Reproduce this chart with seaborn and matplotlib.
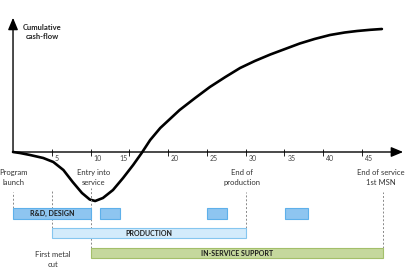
import matplotlib
matplotlib.use("Agg")
import matplotlib.pyplot as plt
import seaborn as sns
import pandas as pd

sns.set_theme(style="white")
plt.rcParams['font.family'] = ['Lato', 'DejaVu Sans']

# Cumulative cash-flow curve (years, arbitrary units)
years = [0, 0.9, 2.2, 3.9, 5.2, 6.5, 7.7, 8.9, 9.9, 10.6, 11.6, 12.9, 14.2, 15.5, 16.6,
         17.7, 19.0, 21.5, 23.5, 25.4, 27.4, 29.3, 31.2, 33.2, 35.1, 37.0, 38.9,
         40.9, 42.8, 44.4, 46.1, 47.6]
cashflow = [0, -0.1, -0.3, -0.6, -1.0, -1.8, -3.0, -4.1, -4.75, -4.9, -4.6, -3.8, -2.6, -1.3, -0.1,
            1.2, 2.4, 4.2, 5.4, 6.5, 7.5, 8.4, 9.1, 9.75, 10.3, 10.85, 11.3,
            11.7, 11.95, 12.1, 12.22, 12.3]

tick_years = [5, 10, 15, 20, 25, 30, 35, 40, 45]
tick_labels = ["5", "10", "15", "20", "25", "30", "35", "40", "45"]

# Phase bars
phase_names = ["R&D, DESIGN", "", "", "", "PRODUCTION", "IN-SERVICE SUPPORT"]
phase_start = [0, 11.2, 25.0, 35.1, 5, 10]
phase_end = [10, 13.8, 27.6, 38.1, 30, 47.7]
phase_row = [0, 0, 0, 0, 1, 2]
phase_fill = ["#8ec5f0", "#8ec5f0", "#8ec5f0", "#8ec5f0", "#d3ebfb", "#c5d89d"]
phase_edge = ["#5eb0ea", "#5eb0ea", "#5eb0ea", "#5eb0ea", "#85c6ef", "#a3bf6a"]

# Milestones
milestone_labels = ["Program\nlaunch", "Entry into\nservice", "End of\nproduction",
                    "End of service\n1st MSN", "First metal\ncut"]
milestone_years = [0, 10.3, 29.8, 47.6, 5]

fig = plt.figure(figsize=(4.07, 2.72), dpi=100)
ax = fig.add_axes([0, 0, 1, 1])
ax.set_xlim(-1.68, 50.84)
ax.set_ylim(-12.0, 15.2)
ax.axis("off")

df = pd.DataFrame({"year": years, "cf": cashflow})
sns.lineplot(data=df, x="year", y="cf", sort=False, color="black", lw=1.9, ax=ax,
             solid_joinstyle="round", solid_capstyle="round")

# axes arrows
ax.annotate("", xy=(50.7, 0), xytext=(0, 0),
            arrowprops=dict(arrowstyle="-|>,head_length=0.6,head_width=0.25", color="black", lw=1.0))
ax.annotate("", xy=(0, 13.7), xytext=(0, -0.3),
            arrowprops=dict(arrowstyle="-|>,head_length=0.6,head_width=0.25", color="black", lw=1.0))
ax.text(3.8, 12.0, "Cumulative\ncash-flow", fontsize=5.5, fontweight="bold",
        ha="center", va="center", linespacing=1.3, color="#222222")

# ticks
ax.vlines(tick_years, -0.4, 0.3, color="black", lw=0.6)
for t, lab in zip(tick_years, tick_labels):
    if lab == "15":
        ax.text(t - 0.2, -0.3, lab, fontsize=5, ha="right", va="top", color="#444444")
    else:
        ax.text(t + 0.4, -0.3, lab, fontsize=5, ha="left", va="top", color="#444444")

# phase bars
row_y = [-6.15, -8.1, -10.1]
for name, s, e, r, fc, ec in zip(phase_names, phase_start, phase_end, phase_row, phase_fill, phase_edge):
    ax.barh(row_y[r], e - s, left=s, height=1.05, color=fc, edgecolor=ec, lw=0.8, zorder=3)
    if name:
        ax.text((s + e) / 2, row_y[r], name, fontsize=5, fontweight="bold",
                ha="center", va="center", color="#1a1a1a", zorder=4)

# milestone dashed lines
dash = (0, (2, 2))
ax.vlines([0], -5.6, -4.0, colors="#888888", linestyles=[dash], lw=0.7)
ax.vlines([5], -7.6, -3.8, colors="#888888", linestyles=[dash], lw=0.7)
ax.vlines([10], -9.6, -3.6, colors="#888888", linestyles=[dash], lw=0.7)
ax.vlines([30], -7.6, -4.0, colors="#888888", linestyles=[dash], lw=0.7)
ax.vlines([47.7], -9.6, -4.0, colors="#888888", linestyles=[dash], lw=0.7)

label_pos = [(0.0, -2.55), (10.4, -2.55), (29.6, -2.55), (47.4, -2.55), (5.1, -10.75)]
for lab, (x, y) in zip(milestone_labels, label_pos):
    ax.text(x, y, lab, fontsize=5.5, ha="center", va="center", linespacing=1.35, color="#333333")

fig.savefig("out.png", dpi=100)
